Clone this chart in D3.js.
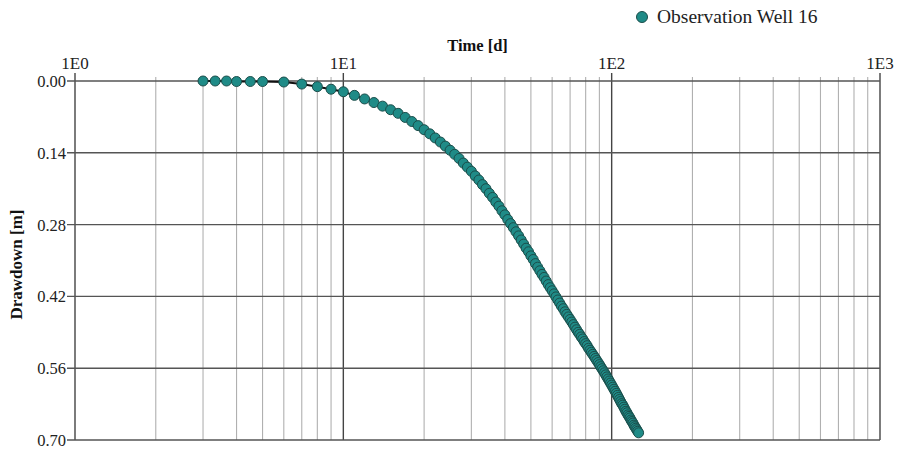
<!DOCTYPE html>
<html>
<head>
<meta charset="utf-8">
<script src="https://cdn.jsdelivr.net/npm/d3@7"></script>
<style>
  html, body { margin: 0; padding: 0; background: #ffffff; }
  svg { display: block; font-family: "Liberation Serif", "Times New Roman", serif; }
</style>
</head>
<body>
<svg id="chart" width="898" height="449"></svg>
<script>
// Observation well 16: elapsed time (days) and measured drawdown (m)
const seriesName = "Observation Well 16";
const timeDays = [
  3, 3.33, 3.67, 4, 4.5, 5, 6, 7, 8, 9,
  10, 11, 12, 13, 14, 15, 16, 17, 18, 19,
  20, 21, 22, 23, 24, 25, 26, 27, 28, 29,
  30, 31, 32, 33, 34, 35, 36, 37, 38, 39,
  40, 41, 42, 43, 44, 45, 46, 47, 48, 49,
  50, 51, 52, 53, 54, 55, 56, 57, 58, 59,
  60, 61, 62, 63, 64, 65, 66, 67, 68, 69,
  70, 71, 72, 73, 74, 75, 76, 77, 78, 79,
  80, 81, 82, 83, 84, 85, 86, 87, 88, 89,
  90, 91, 92, 93, 94, 95, 96, 97, 98, 99,
  100, 101, 102, 103, 104, 105, 106, 107, 108, 109,
  110, 111, 112, 113, 114, 115, 116, 117, 118, 119,
  120, 121, 122, 123, 124, 125, 126
];
const drawdownM = [
  0.000, 0.000, 0.000, 0.001, 0.001, 0.001, 0.002, 0.006, 0.011, 0.016,
  0.021, 0.028, 0.035, 0.042, 0.049, 0.056, 0.063, 0.071, 0.079, 0.087,
  0.095, 0.103, 0.111, 0.119, 0.127, 0.135, 0.143, 0.151, 0.160, 0.168,
  0.176, 0.185, 0.193, 0.202, 0.210, 0.219, 0.227, 0.236, 0.244, 0.253,
  0.261, 0.270, 0.278, 0.286, 0.294, 0.302, 0.310, 0.318, 0.326, 0.333,
  0.341, 0.348, 0.356, 0.363, 0.370, 0.377, 0.383, 0.390, 0.397, 0.403,
  0.409, 0.415, 0.421, 0.427, 0.433, 0.439, 0.444, 0.450, 0.455, 0.460,
  0.465, 0.470, 0.475, 0.480, 0.485, 0.490, 0.494, 0.499, 0.503, 0.508,
  0.512, 0.516, 0.521, 0.525, 0.529, 0.533, 0.537, 0.541, 0.545, 0.549,
  0.553, 0.557, 0.561, 0.565, 0.569, 0.573, 0.577, 0.581, 0.585, 0.589,
  0.593, 0.597, 0.601, 0.605, 0.609, 0.613, 0.617, 0.621, 0.625, 0.629,
  0.632, 0.636, 0.640, 0.644, 0.647, 0.651, 0.654, 0.657, 0.661, 0.664,
  0.667, 0.671, 0.674, 0.677, 0.680, 0.683, 0.686
];
// Axis ticks
const timeMajorTicks = [1, 10, 100, 1000];
const timeTickLabels = ["1E0", "1E1", "1E2", "1E3"];
const drawdownTicks = [0.00, 0.14, 0.28, 0.42, 0.56, 0.70];

const points = timeDays.map((t, i) => ({ t, s: drawdownM[i] }));

const svg = d3.select("#chart");
const plotLeft = 75, plotRight = 880, plotTop = 81, plotBottom = 440;

const x = d3.scaleLog().domain([1, 1000]).range([plotLeft, plotRight]);
const y = d3.scaleLinear().domain([0, 0.7]).range([plotTop, plotBottom]);

// minor ticks: 2..9 within each decade
const minorTicks = [];
for (let d = 1; d < 1000; d *= 10) {
  for (let k = 2; k <= 9; k++) minorTicks.push(d * k);
}

const grid = svg.append("g");
// vertical minor grid
grid.selectAll("line.vminor").data(minorTicks).join("line")
  .attr("x1", d => x(d)).attr("x2", d => x(d))
  .attr("y1", plotTop - 4).attr("y2", plotBottom)
  .attr("stroke", "#b0b0b0").attr("stroke-width", 1.1);
// vertical major grid
grid.selectAll("line.vmajor").data(timeMajorTicks).join("line")
  .attr("x1", d => x(d)).attr("x2", d => x(d))
  .attr("y1", plotTop - 8).attr("y2", plotBottom)
  .attr("stroke", "#444").attr("stroke-width", 1.4);
// horizontal grid
grid.selectAll("line.h").data(drawdownTicks).join("line")
  .attr("x1", plotLeft - 8).attr("x2", plotRight)
  .attr("y1", d => y(d)).attr("y2", d => y(d))
  .attr("stroke", "#555").attr("stroke-width", 1.4);

// axis labels
svg.append("g").selectAll("text").data(timeMajorTicks).join("text")
  .attr("x", d => x(d)).attr("y", plotTop - 12)
  .attr("text-anchor", "middle")
  .attr("font-size", 17).attr("fill", "#222")
  .text((d, i) => timeTickLabels[i]);

svg.append("g").selectAll("text").data(drawdownTicks).join("text")
  .attr("x", plotLeft - 9).attr("y", d => y(d) + 6)
  .attr("text-anchor", "end")
  .attr("font-size", 16.5).attr("fill", "#222")
  .text(d => d.toFixed(2));

svg.append("text")
  .attr("x", (plotLeft + plotRight) / 2).attr("y", 51)
  .attr("text-anchor", "middle")
  .attr("font-size", 16.5).attr("font-weight", "bold").attr("fill", "#111")
  .text("Time [d]");

svg.append("text")
  .attr("transform", `translate(22, ${(plotTop + plotBottom) / 2 + 4}) rotate(-90)`)
  .attr("text-anchor", "middle")
  .attr("font-size", 17).attr("font-weight", "bold").attr("fill", "#111")
  .text("Drawdown [m]");

// connecting line under the markers
const line = d3.line().x(d => x(d.t)).y(d => y(d.s));
svg.append("path").datum(points)
  .attr("d", line)
  .attr("fill", "none").attr("stroke", "#111").attr("stroke-width", 2);

// observation markers
svg.append("g").selectAll("circle").data(points).join("circle")
  .attr("cx", d => x(d.t)).attr("cy", d => y(d.s))
  .attr("r", 5)
  .attr("fill", "#1f8b87").attr("stroke", "#1b4d4a").attr("stroke-width", 1);

// legend
const legend = svg.append("g");
legend.append("circle").attr("cx", 642).attr("cy", 17).attr("r", 5.5)
  .attr("fill", "#1f8b87").attr("stroke", "#1b4d4a").attr("stroke-width", 1);
legend.append("text").attr("x", 657).attr("y", 23)
  .attr("font-size", 19.5).attr("fill", "#222")
  .text(seriesName);
</script>
</body>
</html>
